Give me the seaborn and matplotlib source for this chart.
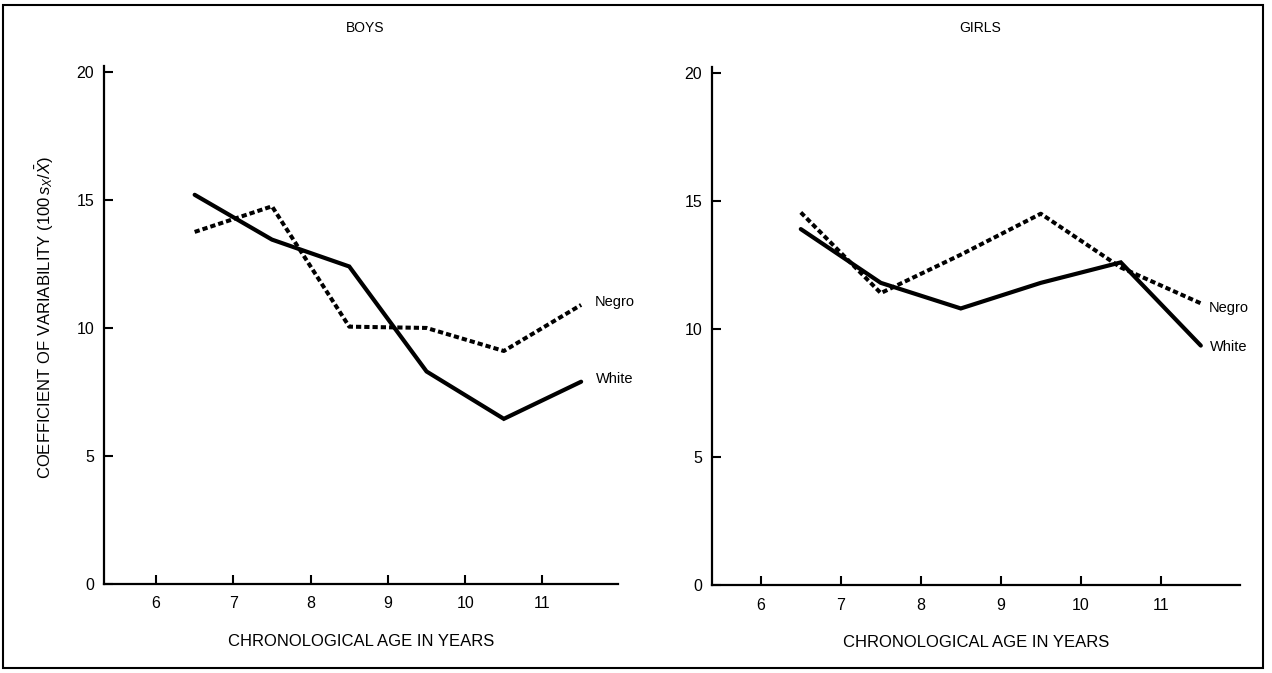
import matplotlib
matplotlib.use("Agg")
import matplotlib.pyplot as plt
from matplotlib.patches import Rectangle
import seaborn as sns
import pandas as pd

# ---- data ----
ages = [6.5, 7.5, 8.5, 9.5, 10.5, 11.5]
boys_white = [15.2, 13.45, 12.4, 8.3, 6.45, 7.9]
boys_negro = [13.75, 14.75, 10.05, 10.0, 9.1, 10.9]
girls_white = [13.9, 11.8, 10.8, 11.8, 12.6, 9.35]
girls_negro = [14.55, 11.4, 12.9, 14.5, 12.4, 11.0]
x_ticks = [6, 7, 8, 9, 10, 11]
y_ticks = [0, 5, 10, 15, 20]
panel_titles = ["BOYS", "GIRLS"]
series_labels = ["Negro", "White"]
x_label = "CHRONOLOGICAL AGE IN YEARS"
y_label = r"COEFFICIENT OF VARIABILITY (100$\,s_X/\bar{X}$)"

sns.set_theme(style="white")
plt.rcParams["font.family"] = ["Liberation Sans", "DejaVu Sans"]
plt.rcParams["mathtext.fontset"] = "custom"
plt.rcParams["mathtext.rm"] = "Liberation Sans"
plt.rcParams["mathtext.it"] = "Liberation Sans:italic"
plt.rcParams["text.color"] = "black"
plt.rcParams["axes.labelcolor"] = "black"
plt.rcParams["xtick.color"] = "black"
plt.rcParams["ytick.color"] = "black"

W, H = 1272, 673
fig = plt.figure(figsize=(W / 100, H / 100), dpi=100)
fig.patch.set_facecolor("white")

ax1 = fig.add_axes([104 / W, 1 - 584 / H, 514 / W, 518 / H])
ax2 = fig.add_axes([712 / W, 1 - 585 / H, 528 / W, 518 / H])

dotted = (0, (1.3, 0.75))
panels = [
    (ax1, boys_white, boys_negro, (5.327, 11.977),
     [(10, 2), (11, 2)]),
    (ax2, girls_white, girls_negro, (5.39, 11.99),
     [(6, -3.6), (6.5, -0.7)]),
]

for ax, white, negro, xlim, offs in panels:
    df_w = pd.DataFrame({"age": ages, "cv": white})
    df_n = pd.DataFrame({"age": ages, "cv": negro})
    sns.lineplot(data=df_w, x="age", y="cv", ax=ax, color="black",
                 linewidth=3.0, solid_joinstyle="miter")
    sns.lineplot(data=df_n, x="age", y="cv", ax=ax, color="black",
                 linewidth=2.9, linestyle=dotted, dash_capstyle="butt")
    ax.set_xlim(*xlim)
    ax.set_ylim(0, 20.23)
    ax.set_xticks(x_ticks)
    ax.set_yticks(y_ticks)
    ax.set_xticklabels([str(t) for t in x_ticks])
    ax.set_yticklabels([str(t) for t in y_ticks])
    ax.tick_params(axis="x", which="major", bottom=True, top=False,
                   direction="in", length=6.5, width=1.5,
                   pad=9, labelsize=11.5, colors="black")
    ax.tick_params(axis="y", which="major", left=True, right=False,
                   direction="in", length=6.5, width=1.5,
                   pad=7, labelsize=11.5, colors="black")
    for s in ["top", "right"]:
        ax.spines[s].set_visible(False)
    for s in ["left", "bottom"]:
        ax.spines[s].set_linewidth(1.6)
        ax.spines[s].set_color("black")
    ax.set_xlabel(x_label, fontsize=12, labelpad=16)
    ax.set_ylabel("")
    # end labels
    ax.annotate(series_labels[0], xy=(ages[-1], negro[-1]),
                xytext=offs[0], textcoords="offset points",
                ha="left", va="center", fontsize=10.5)
    ax.annotate(series_labels[1], xy=(ages[-1], white[-1]),
                xytext=offs[1], textcoords="offset points",
                ha="left", va="center", fontsize=10.5)
    ax.set_facecolor("white")

fig.text(365 / W, 1 - 28 / H, panel_titles[0], ha="center", va="center",
         fontsize=10)
fig.text(980 / W, 1 - 28 / H, panel_titles[1], ha="center", va="center",
         fontsize=10)
fig.text(45 / W, 1 - 318 / H, y_label, rotation=90, ha="center",
         va="center", fontsize=12)

fig.add_artist(Rectangle((3 / W, 1 - 668 / H), 1260 / W, 663 / H,
                         transform=fig.transFigure, fill=False,
                         linewidth=1.5, edgecolor="black"))

fig.savefig("out.png", dpi=100, facecolor="white")
